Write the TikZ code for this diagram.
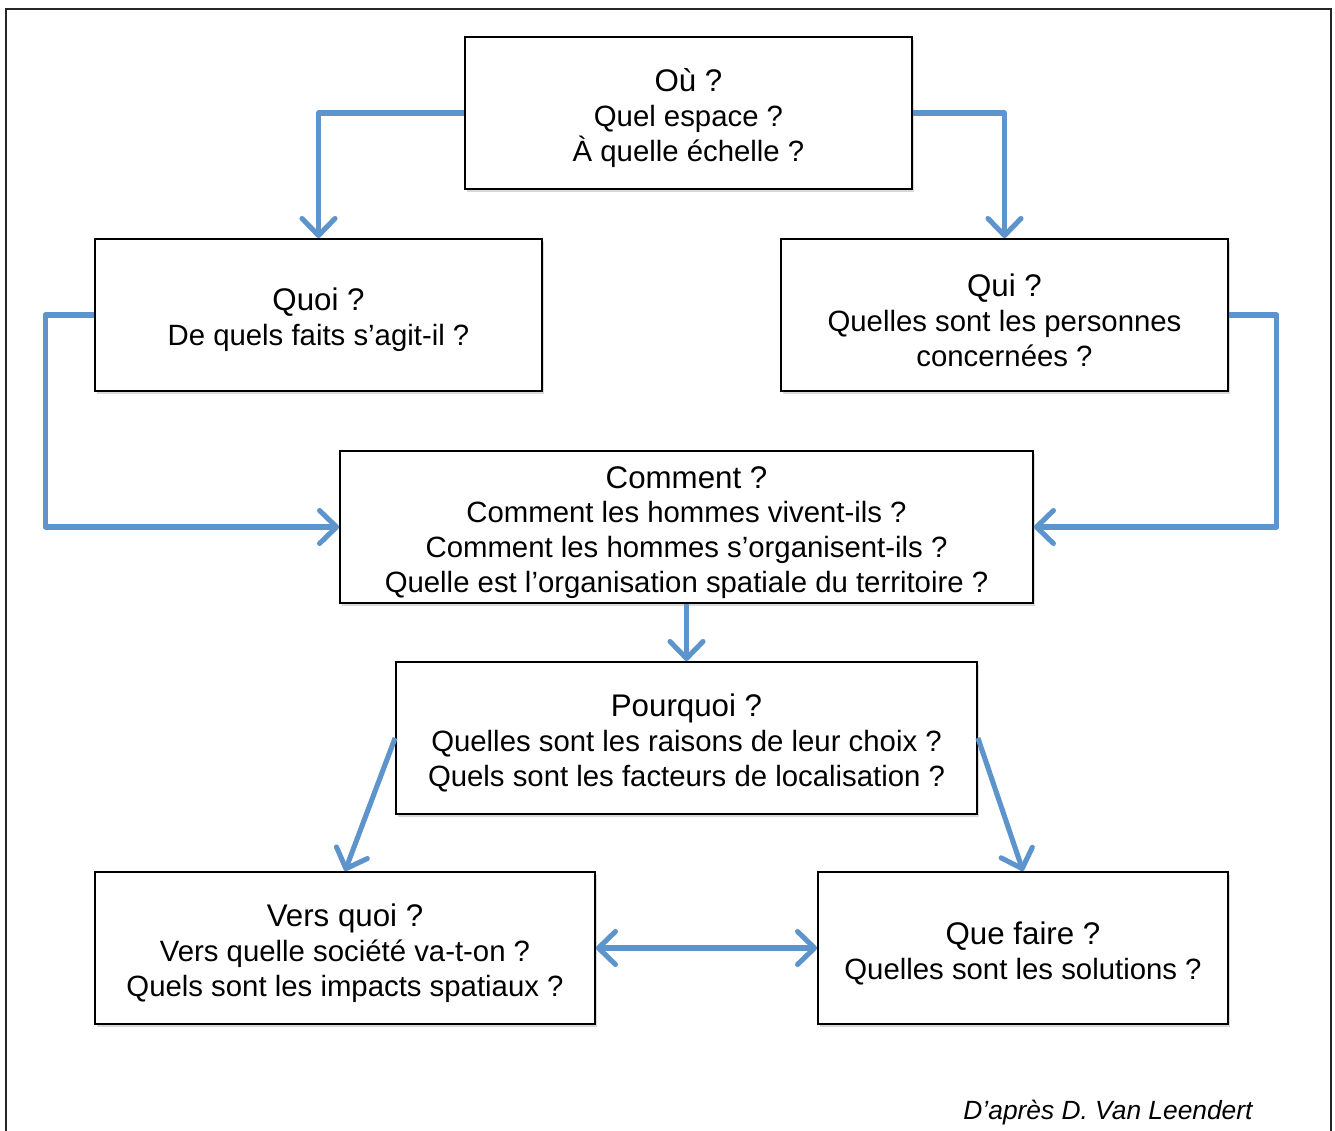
\documentclass[tikz,border=0pt]{standalone}
\usepackage{fontspec}
\setmainfont{Liberation Sans}
\usetikzlibrary{arrows.meta,shadows}

\definecolor{bleu}{RGB}{94,148,204}
\def\titre#1{{\fontsize{17.8}{21}\selectfont\rule{0pt}{18.8pt}#1}}
\def\haut{3.04cm}

\tikzset{
  boite/.style={draw=black, line width=1.1pt, fill=white, align=center,
    minimum height=\haut, inner sep=1pt,
    font=\fontsize{16.7}{19.9}\selectfont,
    drop shadow={opacity=0.3, shadow xshift=1.2pt, shadow yshift=-1.8pt}},
  fleche/.style={draw=bleu, line width=2.9pt, line join=round, ->},
  >={Straight Barb[length=0.34cm, width=0.66cm, round]}
}

\begin{document}
\begin{tikzpicture}[x=0.02cm, y=-0.02cm]
\useasboundingbox (0,0) rectangle (1335,1131);
% Frame
\draw[line width=1.6pt, black!85] (6,1140) -- (6,9) -- (1331,9) -- (1331,1140);
% Boxes
\node[boite, minimum width=8.94cm] (ou) at (688.5,113)
  {\titre{Où ?}\\ Quel espace ?\\ À quelle échelle ?};
\node[boite, minimum width=8.94cm] (quoi) at (318.5,315)
  {\titre{Quoi ?}\\ De quels faits s’agit-il ?};
\node[boite, minimum width=8.94cm] (qui) at (1004.5,315)
  {\titre{Qui ?}\\ Quelles sont les personnes\\ concernées ?};
\node[boite, minimum width=13.86cm] (comment) at (686.5,527)
  {\titre{Comment ?}\\ Comment les hommes vivent-ils ?\\
   Comment les hommes s’organisent-ils ?\\
   Quelle est l’organisation spatiale du territoire ?};
\node[boite, minimum width=11.62cm] (pourquoi) at (686.5,738)
  {\titre{Pourquoi ?}\\ Quelles sont les raisons de leur choix ?\\
   Quels sont les facteurs de localisation ?};
\node[boite, minimum width=10cm] (versquoi) at (345,948)
  {\titre{Vers quoi ?}\\ Vers quelle société va-t-on ?\\
   Quels sont les impacts spatiaux ?};
\node[boite, minimum width=8.2cm] (quefaire) at (1023,948)
  {\titre{Que faire ?}\\ Quelles sont les solutions ?};
% Source
\node[font=\fontsize{15}{18}\selectfont\itshape] (source) at (1108,1113)
  {D’après D. Van Leendert};
% Arrows
\draw[fleche] (ou.west) -| (quoi.north);
\draw[fleche] (ou.east) -| (qui.north);
\draw[fleche] (quoi.west) -- ++(-49,0) |- (comment.west);
\draw[fleche] (qui.east) -- ++(48,0) |- (comment.east);
\draw[fleche] (comment.south) -- (pourquoi.north);
\draw[fleche] (pourquoi.west) -- (versquoi.north);
\draw[fleche] (pourquoi.east) -- (quefaire.north);
\draw[fleche, <->] (versquoi.east) -- (quefaire.west);
\end{tikzpicture}
\end{document}
